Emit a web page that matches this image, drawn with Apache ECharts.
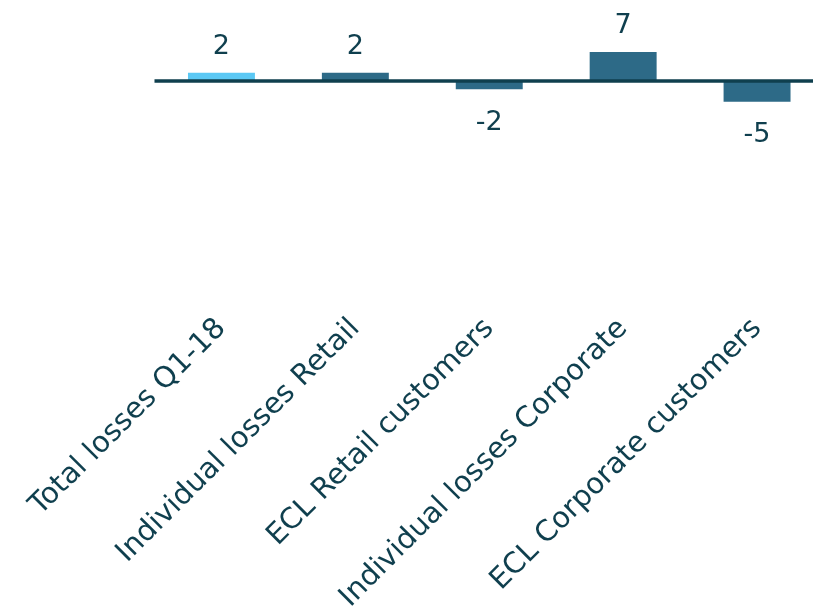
<!DOCTYPE html>
<html>
<head>
<meta charset="utf-8">
<script src="https://cdn.jsdelivr.net/npm/echarts@6/dist/echarts.min.js"></script>
<style>
html,body{margin:0;padding:0;background:#fff;}
#chart{width:813px;height:611px;}
</style>
</head>
<body>
<div id="chart"></div>
<script>
const categories = ["Total losses Q1-18", "Individual losses Retail", "ECL Retail customers", "Individual losses Corporate", "ECL Corporate customers"];
const values = [2, 2, -2, 7, -5];
const barColors = ["#5bc8f4", "#2d6a87", "#2d6a87", "#2d6a87", "#2d6a87"];

const textColor = "#0f3f4e";
const chart = echarts.init(document.getElementById('chart'), null, {renderer: 'canvas'});
chart.setOption({
  animation: false,
  grid: {left: 154.5, right: -11, top: 39.5, bottom: 306, outerBoundsMode: 'none', containLabel: false},
  xAxis: {
    type: 'category',
    data: categories,
    axisLine: {show: false, onZero: false},
    axisTick: {show: false},
    axisLabel: {rotate: 45, margin: 19, color: textColor, fontFamily: 'DejaVu Sans', fontSize: 29, interval: 0}
  },
  yAxis: {
    type: 'value', min: -54, max: 10, show: false, splitLine: {show: false}
  },
  series: [{
    type: 'bar',
    barWidth: '50%',
    data: values.map((v, i) => ({value: v, itemStyle: {color: barColors[i]}, label: v >= 0 ? {position: 'top', distance: 12} : {position: 'bottom', distance: 20}})),
    label: {show: true, color: textColor, fontFamily: 'DejaVu Sans', fontSize: 27},
    markLine: {
      silent: true, symbol: 'none', label: {show: false},
      lineStyle: {color: '#0f3f4e', width: 3.5, type: 'solid'},
      data: [{yAxis: 0}]
    }
  }]
});
</script>
</body>
</html>
